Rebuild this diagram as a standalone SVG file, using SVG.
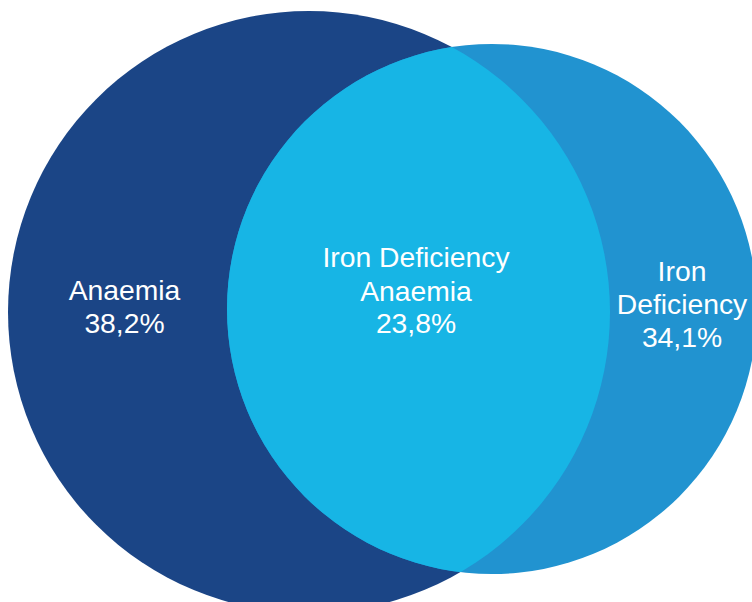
<svg xmlns="http://www.w3.org/2000/svg" width="752" height="602" viewBox="0 0 752 602">
  <defs>
    <style>
      .lbl { font-family: "Liberation Sans", Arial, sans-serif; font-size: 28.3px; fill: #ffffff; text-anchor: middle; }
    </style>
    <clipPath id="clipLeft">
      <circle cx="309" cy="312" r="301"/>
    </clipPath>
  </defs>
  <rect width="752" height="602" fill="#ffffff"/>
  <g id="anaemia">
    <circle cx="309" cy="312" r="301" fill="#1B4586"/>
  </g>
  <g id="iron-deficiency">
    <circle cx="492" cy="309" r="265" fill="#2193D0"/>
  </g>
  <g id="ida">
    <circle cx="492" cy="309" r="265" fill="#17B5E5" clip-path="url(#clipLeft)"/>
  </g>
  <g id="labels">
    <text class="lbl" x="124.5" y="300">Anaemia</text>
    <text class="lbl" x="124.5" y="333">38,2%</text>
    <text class="lbl" x="416" y="267">Iron Deficiency</text>
    <text class="lbl" x="416" y="301">Anaemia</text>
    <text class="lbl" x="416" y="333">23,8%</text>
    <text class="lbl" x="682" y="281">Iron</text>
    <text class="lbl" x="682" y="314">Deficiency</text>
    <text class="lbl" x="682" y="346.5">34,1%</text>
  </g>
</svg>
